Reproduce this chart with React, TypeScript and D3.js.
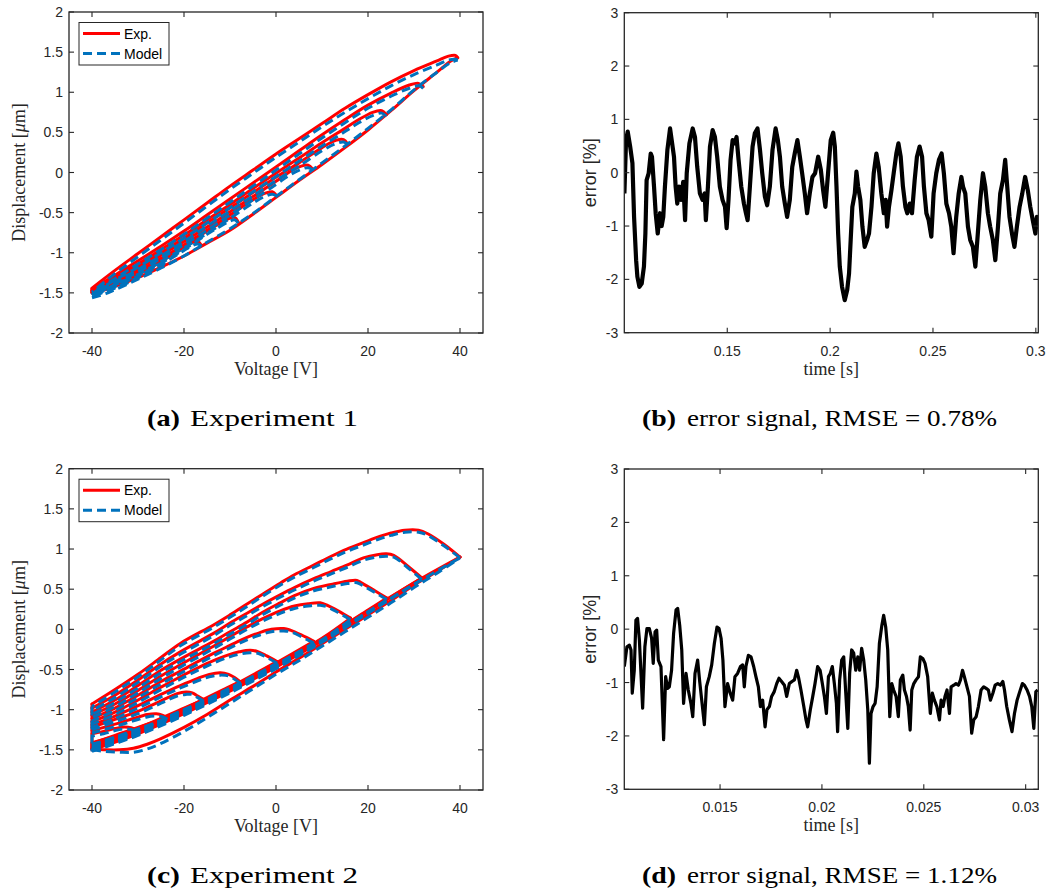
import React from "react";
import * as d3 from "d3";

type Row = [number, number, number]; // [voltage V, experiment µm, model µm]
type Pt = [number, number]; // [time ms, error %]

// ---------------- Experiment 1 (top-left) ----------------
const exp1Ascending: Row[] = [
  [-40, -1.5, -1.56], [-37, -1.46, -1.51], [-35, -1.42, -1.46], [-30, -1.31, -1.33], [-25, -1.18, -1.19],
  [-20, -1.04, -1.04], [-15, -0.88, -0.87], [-10, -0.72, -0.7], [-5, -0.52, -0.51], [0, -0.31, -0.3],
  [5, -0.1, -0.09], [10, 0.1, 0.12], [15, 0.31, 0.33], [20, 0.53, 0.55], [25, 0.77, 0.78],
  [30, 1.02, 1.03], [35, 1.25, 1.25], [38, 1.39, 1.37], [39.5, 1.43, 1.4],
];
const exp1Desc1: Row[] = [
  [39.5, 1.43, 1.4], [39, 1.46, 1.41], [37.5, 1.45, 1.4], [35, 1.39, 1.34], [30, 1.27, 1.22], [25, 1.13, 1.08],
  [20, 0.97, 0.92], [15, 0.8, 0.75], [10, 0.61, 0.57], [5, 0.42, 0.38], [0, 0.23, 0.19], [-5, 0.03, -0.01],
  [-10, -0.17, -0.21], [-15, -0.38, -0.42], [-20, -0.59, -0.63], [-25, -0.8, -0.84], [-30, -1.01, -1.05],
  [-35, -1.22, -1.26], [-40, -1.44, -1.49],
];
const exp1Desc2: Row[] = [
  [32, 1.07, 1.05], [31, 1.11, 1.08], [29, 1.09, 1.05], [25, 0.99, 0.95], [20, 0.84, 0.8], [15, 0.66, 0.62],
  [10, 0.47, 0.43], [5, 0.27, 0.23], [0, 0.07, 0.03], [-5, -0.13, -0.17], [-10, -0.33, -0.37], [-15, -0.53, -0.57],
  [-20, -0.73, -0.77], [-25, -0.92, -0.96], [-30, -1.1, -1.14], [-35, -1.28, -1.32], [-40, -1.45, -1.5],
];
const exp1Desc3: Row[] = [
  [24, 0.72, 0.7], [23, 0.77, 0.74], [21, 0.75, 0.71], [18, 0.66, 0.62], [15, 0.55, 0.51], [10, 0.37, 0.33],
  [5, 0.18, 0.14], [0, -0.01, -0.05], [-5, -0.2, -0.24], [-10, -0.4, -0.44], [-15, -0.59, -0.63],
  [-20, -0.78, -0.82], [-25, -0.96, -1.0], [-30, -1.14, -1.18], [-35, -1.3, -1.34], [-40, -1.46, -1.51],
];
const exp1Desc4: Row[] = [
  [15.5, 0.36, 0.35], [14.7, 0.41, 0.38], [13, 0.4, 0.36], [10, 0.31, 0.27], [5, 0.12, 0.08], [0, -0.06, -0.1],
  [-5, -0.25, -0.29], [-10, -0.44, -0.48], [-15, -0.63, -0.67], [-20, -0.82, -0.86], [-25, -1.0, -1.04],
  [-30, -1.17, -1.21], [-35, -1.32, -1.36], [-40, -1.47, -1.52],
];
const exp1Desc5: Row[] = [
  [8, 0.04, 0.03], [7, 0.09, 0.06], [5.5, 0.08, 0.04], [3, 0.01, -0.03], [0, -0.11, -0.15], [-5, -0.3, -0.34],
  [-10, -0.49, -0.53], [-15, -0.68, -0.72], [-20, -0.86, -0.9], [-25, -1.03, -1.07], [-30, -1.2, -1.24],
  [-35, -1.34, -1.38], [-40, -1.47, -1.52],
];
const exp1Desc6: Row[] = [
  [0, -0.28, -0.29], [-0.8, -0.24, -0.27], [-2.5, -0.26, -0.3], [-5, -0.34, -0.38], [-10, -0.53, -0.57],
  [-15, -0.72, -0.76], [-20, -0.9, -0.94], [-25, -1.07, -1.11], [-30, -1.23, -1.27], [-35, -1.36, -1.4],
  [-40, -1.48, -1.53],
];
const exp1Desc7: Row[] = [
  [-8.2, -0.62, -0.63], [-9, -0.56, -0.59], [-10.5, -0.58, -0.62], [-13, -0.66, -0.7], [-15, -0.73, -0.77],
  [-20, -0.92, -0.96], [-25, -1.09, -1.13], [-30, -1.25, -1.29], [-35, -1.38, -1.42], [-40, -1.48, -1.53],
];
const exp1Desc8: Row[] = [
  [-16.2, -0.91, -0.92], [-17, -0.86, -0.89], [-18.5, -0.88, -0.92], [-20, -0.93, -0.97], [-25, -1.11, -1.15],
  [-30, -1.27, -1.31], [-35, -1.39, -1.43], [-40, -1.49, -1.54],
];
const exp1Desc9: Row[] = [
  [-24.2, -1.15, -1.16], [-25, -1.12, -1.14], [-26.5, -1.14, -1.17], [-30, -1.27, -1.31], [-35, -1.4, -1.44],
  [-40, -1.49, -1.54],
];
const exp1Desc10: Row[] = [
  [-32.3, -1.36, -1.37], [-33, -1.33, -1.35], [-34.5, -1.35, -1.38], [-37, -1.42, -1.46], [-40, -1.5, -1.55],
];
const exp1Branches: Row[][] = [
  exp1Ascending, exp1Desc1, exp1Desc2, exp1Desc3, exp1Desc4, exp1Desc5,
  exp1Desc6, exp1Desc7, exp1Desc8, exp1Desc9, exp1Desc10,
];

// ---------------- Experiment 2 (bottom-left) ----------------
const exp2Lowest: Row[] = [
  [-40, -1.49, -1.5], [-37, -1.5, -1.52], [-34, -1.5, -1.53], [-31, -1.48, -1.53], [-28, -1.43, -1.49],
  [-25, -1.36, -1.42], [-20, -1.22, -1.27], [-15, -1.06, -1.1], [-10, -0.88, -0.92], [-5, -0.71, -0.74],
  [0, -0.53, -0.56], [5, -0.36, -0.39], [10, -0.18, -0.21], [15, 0.0, -0.03], [20, 0.18, 0.15],
  [25, 0.36, 0.33], [30, 0.55, 0.52], [35, 0.72, 0.7], [40, 0.9, 0.89],
];
const exp2Vertical: Row[] = [[-40, -0.93, -0.96], [-40, -1.5, -1.52]];
const exp2Top1: Row[] = [
  [40, 0.9, 0.89], [36.5, 1.06, 1.04], [33, 1.19, 1.17], [31, 1.235, 1.21], [28, 1.235, 1.21], [25, 1.2, 1.17],
  [22.7, 1.16, 1.13], [19, 1.08, 1.05], [15.4, 1.0, 0.97], [12, 0.91, 0.88], [8.2, 0.8, 0.77], [4, 0.68, 0.65],
  [0.9, 0.575, 0.55], [-3, 0.435, 0.41], [-6.3, 0.315, 0.285], [-10, 0.18, 0.15], [-13.6, 0.055, 0.025],
  [-20.8, -0.175, -0.205], [-25, -0.35, -0.38], [-30, -0.56, -0.59], [-35, -0.75, -0.78], [-40, -0.93, -0.96],
];
const exp2Top2: Row[] = [
  [31.7, 0.64, 0.62], [29, 0.77, 0.75], [25.6, 0.92, 0.9], [24, 0.94, 0.91], [22, 0.93, 0.9], [19, 0.89, 0.86],
  [15.4, 0.8, 0.77], [12, 0.72, 0.69], [8.2, 0.63, 0.6], [4, 0.52, 0.49], [0.9, 0.43, 0.4], [-3, 0.31, 0.28],
  [-6.3, 0.2, 0.17], [-10, 0.08, 0.05], [-13.6, -0.05, -0.08], [-20.8, -0.28, -0.31], [-25, -0.43, -0.46],
  [-30, -0.63, -0.66], [-35, -0.82, -0.85], [-40, -0.98, -1.01],
];
const exp2Top3: Row[] = [
  [24.1, 0.39, 0.37], [21.5, 0.48, 0.46], [18.7, 0.575, 0.55], [17.6, 0.61, 0.58], [15.5, 0.6, 0.57],
  [12, 0.56, 0.53], [8.2, 0.51, 0.48], [4, 0.42, 0.39], [0.9, 0.33, 0.3], [-3, 0.21, 0.18], [-6.3, 0.09, 0.06],
  [-10, -0.03, -0.06], [-13.6, -0.15, -0.18], [-20.8, -0.37, -0.4], [-25, -0.51, -0.54], [-30, -0.7, -0.73],
  [-35, -0.88, -0.91], [-40, -1.03, -1.06],
];
const exp2Top4: Row[] = [
  [16.2, 0.14, 0.12], [13.5, 0.23, 0.21], [11.1, 0.3, 0.28], [9.6, 0.33, 0.3], [7, 0.32, 0.29], [4, 0.29, 0.26],
  [0.9, 0.23, 0.2], [-3, 0.13, 0.1], [-6.3, 0.03, 0.0], [-10, -0.09, -0.12], [-13.6, -0.21, -0.24],
  [-20.8, -0.44, -0.47], [-25, -0.58, -0.61], [-30, -0.76, -0.79], [-35, -0.93, -0.96], [-40, -1.07, -1.1],
];
const exp2Top5: Row[] = [
  [8.2, -0.15, -0.17], [5.5, -0.07, -0.09], [3.1, -0.01, -0.03], [1.7, 0.01, -0.02], [-1, 0.0, -0.03],
  [-3.5, -0.04, -0.07], [-6.3, -0.1, -0.13], [-10, -0.2, -0.23], [-13.6, -0.3, -0.33], [-20.8, -0.52, -0.55],
  [-25, -0.65, -0.68], [-30, -0.82, -0.85], [-35, -0.98, -1.01], [-40, -1.11, -1.14],
];
const exp2Top6: Row[] = [
  [0.2, -0.4, -0.42], [-2, -0.33, -0.35], [-3.8, -0.28, -0.3], [-5.6, -0.26, -0.29], [-8, -0.28, -0.31],
  [-10.5, -0.32, -0.35], [-13.6, -0.39, -0.42], [-17, -0.48, -0.51], [-20.8, -0.59, -0.62], [-25, -0.72, -0.75],
  [-30, -0.88, -0.91], [-35, -1.03, -1.06], [-40, -1.15, -1.18],
];
const exp2Top7: Row[] = [
  [-7.8, -0.65, -0.67], [-9, -0.6, -0.62], [-10.3, -0.56, -0.58], [-12.1, -0.54, -0.57], [-14.5, -0.56, -0.59],
  [-17, -0.61, -0.64], [-20.8, -0.7, -0.73], [-25, -0.81, -0.84], [-30, -0.95, -0.98], [-35, -1.08, -1.11],
  [-40, -1.19, -1.22],
];
const exp2Top8: Row[] = [
  [-15.7, -0.875, -0.895], [-17, -0.83, -0.85], [-18.2, -0.79, -0.81], [-19.6, -0.78, -0.81], [-21.5, -0.8, -0.83],
  [-25, -0.89, -0.92], [-30, -1.02, -1.05], [-35, -1.12, -1.15], [-40, -1.22, -1.25],
];
const exp2Top9: Row[] = [
  [-23.6, -1.1, -1.12], [-24.6, -1.07, -1.09], [-26, -1.05, -1.08], [-28, -1.06, -1.09], [-31, -1.11, -1.14],
  [-35, -1.18, -1.21], [-40, -1.26, -1.29],
];
const exp2Top10: Row[] = [
  [-30.5, -1.25, -1.27], [-31.5, -1.225, -1.245], [-33, -1.215, -1.24], [-35, -1.235, -1.26], [-37.5, -1.27, -1.3],
  [-40, -1.3, -1.33],
];
const exp2Band0: Row[] = [[-40, -1.41, -1.43], [-35, -1.33, -1.35], [-30.5, -1.25, -1.27]];
const exp2Band1: Row[] = [[-40, -1.42, -1.44], [-35, -1.32, -1.34], [-30, -1.22, -1.24], [-23.6, -1.1, -1.12]];
const exp2Band2: Row[] = [[-40, -1.43, -1.45], [-30, -1.23, -1.25], [-20, -0.98, -1.0], [-15.7, -0.875, -0.895]];
const exp2Band3: Row[] = [
  [-40, -1.44, -1.46], [-30, -1.24, -1.26], [-20, -0.99, -1.01], [-10, -0.71, -0.73], [-7.8, -0.65, -0.67],
];
const exp2Band4: Row[] = [
  [-40, -1.45, -1.47], [-30, -1.25, -1.27], [-20, -1.0, -1.02], [-10, -0.72, -0.74], [0.2, -0.4, -0.42],
];
const exp2Band5: Row[] = [
  [-40, -1.46, -1.48], [-30, -1.26, -1.28], [-20, -1.01, -1.03], [-10, -0.73, -0.75], [0, -0.42, -0.44],
  [8.2, -0.15, -0.17],
];
const exp2Band6: Row[] = [
  [-40, -1.47, -1.49], [-30, -1.27, -1.29], [-20, -1.02, -1.04], [-10, -0.74, -0.76], [0, -0.44, -0.46],
  [10, -0.11, -0.13], [16.2, 0.14, 0.12],
];
const exp2Band7: Row[] = [
  [-40, -1.48, -1.5], [-30, -1.28, -1.3], [-20, -1.03, -1.05], [-10, -0.75, -0.77], [0, -0.45, -0.47],
  [10, -0.12, -0.14], [20, 0.24, 0.22], [24.1, 0.39, 0.37],
];
const exp2Band8: Row[] = [
  [-40, -1.49, -1.51], [-30, -1.29, -1.31], [-20, -1.04, -1.06], [-10, -0.76, -0.78], [0, -0.46, -0.48],
  [10, -0.13, -0.15], [20, 0.23, 0.21], [31.7, 0.64, 0.62],
];
const exp2Band9: Row[] = [
  [-40, -1.5, -1.52], [-30, -1.3, -1.32], [-20, -1.05, -1.07], [-10, -0.77, -0.79], [0, -0.47, -0.49],
  [10, -0.14, -0.16], [20, 0.22, 0.2], [30, 0.58, 0.56], [40, 0.9, 0.89],
];
const exp2Branches: Row[][] = [
  exp2Lowest, exp2Vertical, exp2Top1, exp2Top2, exp2Top3, exp2Top4, exp2Top5, exp2Top6, exp2Top7, exp2Top8,
  exp2Top9, exp2Top10, exp2Band0, exp2Band1, exp2Band2, exp2Band3, exp2Band4, exp2Band5, exp2Band6,
  exp2Band7, exp2Band8, exp2Band9,
];

// ---------------- Error signals ----------------
const error1: Pt[] = [
  [100.0, -0.39], [100.8, 0.61], [101.6, 0.77], [102.8, 0.49], [103.9, 0.18], [104.7, -0.83], [105.7, -1.64],
  [106.3, -1.95], [107.3, -2.14], [108.4, -2.08], [109.5, -1.76], [110.2, -1.14], [110.8, -0.14], [111.8, -0.01],
  [112.8, 0.36], [113.4, 0.3], [114.4, -0.26], [115.2, -0.76], [116.2, -1.14], [117.3, -0.76], [118.1, -1.0],
  [118.9, -0.83], [119.7, -0.26], [120.9, 0.43], [122.2, 0.83], [123.0, 0.61], [124.1, 0.3], [124.9, -0.26],
  [125.7, -0.58], [126.5, -0.26], [127.5, -0.51], [128.6, -0.17], [129.5, -0.89], [130.3, -0.01], [131.6, 0.55],
  [133.2, 0.83], [134.3, 0.67], [135.4, 0.11], [136.7, -0.39], [138.0, -0.51], [139.0, -0.39], [139.6, -0.89],
  [140.6, -0.26], [141.6, 0.49], [142.9, 0.8], [144.0, 0.67], [145.1, 0.3], [146.4, -0.26], [147.7, -0.51],
  [148.9, -0.64], [149.7, -1.04], [150.6, -0.51], [151.6, 0.24], [152.6, 0.61], [153.6, 0.55], [154.5, 0.67],
  [155.5, 0.24], [156.8, -0.26], [158.1, -0.58], [159.1, -0.76], [159.9, -0.89], [161.0, -0.26], [162.3, 0.49],
  [163.4, 0.74], [164.7, 0.83], [165.9, 0.43], [167.0, -0.01], [168.3, -0.45], [169.4, -0.61], [170.7, -0.26],
  [172.0, 0.43], [173.5, 0.83], [174.6, 0.61], [175.6, 0.3], [176.7, -0.26], [178.0, -0.58], [179.1, -0.83],
  [180.4, -0.51], [181.6, 0.11], [182.8, 0.36], [184.1, 0.61], [185.3, 0.3], [186.4, -0.01], [187.7, -0.39],
  [188.8, -0.76], [190.1, -0.39], [191.4, -0.08], [192.7, -0.01], [194.2, 0.3], [195.5, 0.05], [196.6, -0.33],
  [197.7, -0.64], [199.0, -0.01], [200.3, 0.61], [201.5, 0.75], [202.3, 0.49], [203.1, -0.26], [203.9, -1.14],
  [204.7, -1.76], [205.8, -2.14], [207.1, -2.39], [208.3, -2.2], [209.2, -1.89], [210.0, -1.26], [210.8, -0.64],
  [212.0, -0.39], [212.8, 0.02], [213.6, -0.26], [214.7, -0.51], [215.7, -1.01], [216.8, -1.39], [218.0, -1.26],
  [218.9, -1.14], [220.1, -0.64], [221.2, -0.01], [222.5, 0.36], [223.6, 0.11], [224.9, -0.39], [226.1, -0.76],
  [227.0, -0.51], [227.7, -1.01], [228.6, -0.64], [229.8, -0.33], [230.9, -0.01], [232.2, 0.36], [233.2, 0.55],
  [234.3, 0.3], [235.4, -0.26], [236.6, -0.64], [237.5, -0.76], [238.7, -0.58], [239.8, -0.76], [241.1, -0.14],
  [242.2, 0.3], [243.5, 0.49], [244.7, 0.3], [245.6, -0.26], [246.8, -0.76], [247.9, -0.89], [249.2, -1.2],
  [250.3, -0.39], [251.6, -0.01], [252.9, 0.24], [254.2, 0.36], [255.3, -0.01], [256.5, -0.58], [257.8, -0.76],
  [258.9, -1.01], [260.0, -1.51], [261.3, -0.83], [262.5, -0.39], [263.8, -0.08], [264.6, -0.26], [265.7, -0.39],
  [267.0, -1.01], [268.1, -1.26], [269.4, -1.39], [270.6, -1.76], [271.8, -1.14], [273.0, -0.51], [274.3, -0.01],
  [275.4, -0.26], [276.7, -0.76], [277.8, -1.01], [279.1, -1.26], [280.3, -1.64], [281.6, -1.01], [282.7, -0.39],
  [284.0, -0.14], [285.1, 0.24], [286.1, -0.26], [287.2, -0.83], [288.4, -1.14], [289.6, -1.39], [290.8, -1.01],
  [292.1, -0.64], [293.4, -0.39], [294.8, -0.08], [296.1, -0.33], [297.3, -0.64], [298.5, -0.89], [299.8, -1.14],
  [300.5, -0.83], [301.2, -1.0],
];
const error2: Pt[] = [
  [10.3, -0.7], [10.43, -0.33], [10.55, -0.3], [10.63, -0.39], [10.69, -1.2], [10.79, -0.77], [10.87, 0.17],
  [10.95, 0.2], [11.04, -0.2], [11.2, -1.48], [11.31, -0.33], [11.41, 0.01], [11.53, 0.01], [11.64, -0.17],
  [11.72, -0.64], [11.81, -0.05], [11.89, -0.02], [11.97, -0.58], [12.1, -0.7], [12.23, -2.07], [12.33, -0.89],
  [12.43, -1.11], [12.51, -1.08], [12.62, -0.77], [12.72, -0.08], [12.84, 0.36], [12.92, 0.39], [13.02, 0.07],
  [13.12, -0.39], [13.21, -1.39], [13.33, -0.83], [13.44, -1.14], [13.57, -1.39], [13.66, -1.64], [13.77, -0.83],
  [13.9, -0.58], [14.0, -0.98], [14.1, -1.33], [14.23, -1.79], [14.33, -1.08], [14.47, -0.89], [14.59, -0.67],
  [14.72, -0.27], [14.85, 0.04], [14.95, 0.01], [15.05, -0.17], [15.14, -0.58], [15.24, -1.45], [15.37, -1.02],
  [15.5, -1.2], [15.62, -1.33], [15.73, -0.89], [15.86, -0.83], [16.0, -0.7], [16.11, -0.67], [16.19, -1.08],
  [16.27, -0.7], [16.39, -0.49], [16.52, -0.52], [16.65, -0.7], [16.76, -0.89], [16.88, -1.08], [16.98, -1.45],
  [17.09, -1.33], [17.21, -1.83], [17.3, -1.51], [17.42, -1.45], [17.53, -1.26], [17.66, -1.17], [17.78, -1.02],
  [17.89, -0.92], [18.02, -0.98], [18.16, -1.05], [18.27, -1.26], [18.4, -1.02], [18.53, -0.98], [18.65, -0.95],
  [18.76, -0.77], [18.86, -0.92], [18.97, -1.14], [19.11, -1.45], [19.22, -1.7], [19.3, -1.83], [19.43, -1.51],
  [19.55, -1.26], [19.66, -1.02], [19.79, -0.7], [19.91, -0.77], [20.02, -1.02], [20.12, -1.26], [20.22, -1.58],
  [20.32, -0.89], [20.41, -0.83], [20.51, -0.7], [20.61, -1.02], [20.71, -1.39], [20.77, -1.92], [20.87, -0.95],
  [20.97, -0.58], [21.07, -0.52], [21.17, -1.2], [21.27, -1.86], [21.36, -0.83], [21.46, -0.39], [21.56, -0.45],
  [21.66, -0.77], [21.76, -0.52], [21.85, -0.77], [21.95, -0.36], [22.05, -0.58], [22.15, -0.95], [22.25, -1.51],
  [22.33, -2.51], [22.41, -1.58], [22.51, -1.45], [22.61, -1.39], [22.71, -1.08], [22.82, -0.27], [22.94, 0.07],
  [23.03, 0.26], [23.13, 0.04], [23.23, -0.39], [23.33, -1.64], [23.43, -1.02], [23.52, -1.14], [23.64, -1.26],
  [23.75, -1.64], [23.85, -0.95], [23.97, -0.86], [24.05, -1.14], [24.15, -1.26], [24.24, -1.45], [24.33, -1.89],
  [24.41, -1.14], [24.51, -1.02], [24.62, -0.95], [24.74, -0.89], [24.83, -0.52], [24.95, -0.55], [25.06, -0.64],
  [25.19, -0.89], [25.32, -1.58], [25.42, -1.2], [25.52, -1.33], [25.64, -1.45], [25.77, -1.7], [25.85, -1.33],
  [25.95, -1.45], [26.04, -1.26], [26.14, -1.14], [26.26, -1.58], [26.34, -1.08], [26.47, -1.05], [26.58, -1.02],
  [26.7, -1.05], [26.8, -0.95], [26.9, -0.77], [26.99, -0.89], [27.12, -1.08], [27.24, -1.26], [27.35, -1.95],
  [27.45, -1.7], [27.57, -1.64], [27.68, -1.45], [27.81, -1.14], [27.94, -1.08], [28.06, -1.11], [28.17, -1.14],
  [28.27, -1.33], [28.39, -1.2], [28.5, -1.05], [28.63, -1.02], [28.76, -1.05], [28.88, -0.98], [28.96, -1.14],
  [29.07, -1.45], [29.2, -1.7], [29.33, -1.92], [29.45, -1.58], [29.58, -1.33], [29.71, -1.17], [29.84, -1.02],
  [29.94, -1.05], [30.07, -1.14], [30.19, -1.26], [30.3, -1.45], [30.4, -1.86], [30.5, -1.17], [30.59, -1.14],
];

// ---------------- Axes ----------------
const voltTicks = [-40, -20, 0, 20, 40];
const dispTicks = [-2, -1.5, -1, -0.5, 0, 0.5, 1, 1.5, 2];
const errTicks = [-3, -2, -1, 0, 1, 2, 3];
const time1Ticks = [150, 200, 250, 300];
const time1Labels = ["0.15", "0.2", "0.25", "0.3"];
const time2Ticks = [15, 20, 25, 30];
const time2Labels = ["0.015", "0.02", "0.025", "0.03"];
const legendLabels = ["Exp.", "Model"];

const SANS = "'Liberation Sans', Arial, Helvetica, sans-serif";
const SERIF = "'Liberation Serif', 'Times New Roman', serif";
const AX = "#262626";
const RED = "#FF0000";
const BLUE = "#0072BD";

type Box = { x0: number; x1: number; y0: number; y1: number };

function Frame(props: {
  box: Box;
  xs: (v: number) => number;
  ys: (v: number) => number;
  xTicks: number[];
  xLabels: string[];
  yTicks: number[];
  yLabels: string[];
  xLabel: React.ReactNode;
  yLabel: React.ReactNode;
  yLabelSans?: boolean;
  yLabelX: number;
}) {
  const { box, xs, ys } = props;
  const tl = 5;
  const cy = (box.y0 + box.y1) / 2;
  const cx = (box.x0 + box.x1) / 2;
  return (
    <g>
      {props.xTicks.map((t, i) => {
        const px = xs(t);
        return (
          <g key={"xt" + i}>
            <line x1={px} x2={px} y1={box.y1} y2={box.y1 - tl} stroke={AX} strokeWidth={1.1} />
            <line x1={px} x2={px} y1={box.y0} y2={box.y0 + tl} stroke={AX} strokeWidth={1.1} />
            <text x={px} y={box.y1 + 23} textAnchor="middle" fontFamily={SANS} fontSize={14} fill={AX}>
              {props.xLabels[i]}
            </text>
          </g>
        );
      })}
      {props.yTicks.map((t, i) => {
        const py = ys(t);
        return (
          <g key={"yt" + i}>
            <line x1={box.x0} x2={box.x0 + tl} y1={py} y2={py} stroke={AX} strokeWidth={1.1} />
            <line x1={box.x1} x2={box.x1 - tl} y1={py} y2={py} stroke={AX} strokeWidth={1.1} />
            <text x={box.x0 - 6} y={py} dy="0.36em" textAnchor="end" fontFamily={SANS} fontSize={14} fill={AX}>
              {props.yLabels[i]}
            </text>
          </g>
        );
      })}
      <rect x={box.x0} y={box.y0} width={box.x1 - box.x0} height={box.y1 - box.y0} fill="none" stroke={AX} strokeWidth={1.3} />
      <text x={cx} y={box.y1 + 42} textAnchor="middle" fontFamily={SERIF} fontSize={18} fill={AX}>
        {props.xLabel}
      </text>
      <text
        transform={`translate(${props.yLabelX},${cy}) rotate(-90)`}
        textAnchor="middle"
        fontFamily={props.yLabelSans ? SANS : SERIF}
        fontSize={18}
        fill={AX}
      >
        {props.yLabel}
      </text>
    </g>
  );
}

function HystPanel({ box, branches, id }: { box: Box; branches: Row[][]; id: string }) {
  const xs = d3.scaleLinear().domain([-45, 45]).range([box.x0, box.x1]);
  const ys = d3.scaleLinear().domain([-2, 2]).range([box.y1, box.y0]);
  const mk = (k: 1 | 2) =>
    d3
      .line<Row>()
      .x((d) => xs(d[0]))
      .y((d) => ys(d[k]))
      .curve(d3.curveCatmullRom.alpha(0.5));
  const expLine = mk(1);
  const modLine = mk(2);
  const lx = box.x0 + 10;
  const ly = box.y0 + 10.5;
  return (
    <g>
      <defs>
        <clipPath id={id}>
          <rect x={box.x0} y={box.y0} width={box.x1 - box.x0} height={box.y1 - box.y0} />
        </clipPath>
      </defs>
      <g clipPath={`url(#${id})`}>
        {branches.map((b, i) => (
          <path key={"e" + i} d={expLine(b) || ""} fill="none" stroke={RED} strokeWidth={3} strokeLinejoin="round" strokeLinecap="round" />
        ))}
        {branches.map((b, i) => (
          <path key={"m" + i} d={modLine(b) || ""} fill="none" stroke={BLUE} strokeWidth={3} strokeDasharray="9,5" />
        ))}
      </g>
      <Frame
        box={box}
        xs={xs}
        ys={ys}
        xTicks={voltTicks}
        xLabels={voltTicks.map(String)}
        yTicks={dispTicks}
        yLabels={dispTicks.map(String)}
        xLabel="Voltage [V]"
        yLabel={
          <>
            Displacement [<tspan fontStyle="italic">μ</tspan>m]
          </>
        }
        yLabelX={25}
      />
      <g>
        <rect x={lx} y={ly} width={90} height={42.5} fill="#fff" stroke={AX} strokeWidth={1} />
        <line x1={lx + 4} x2={lx + 41} y1={ly + 11} y2={ly + 11} stroke={RED} strokeWidth={3} />
        <line x1={lx + 4} x2={lx + 41} y1={ly + 31} y2={ly + 31} stroke={BLUE} strokeWidth={3} strokeDasharray="9,5" />
        <text x={lx + 45} y={ly + 16} fontFamily={SANS} fontSize={14} fill="#000">{legendLabels[0]}</text>
        <text x={lx + 45} y={ly + 36} fontFamily={SANS} fontSize={14} fill="#000">{legendLabels[1]}</text>
      </g>
    </g>
  );
}

function ErrorPanel(props: {
  box: Box;
  data: Pt[];
  domain: [number, number];
  ticks: number[];
  labels: string[];
  id: string;
  width: number;
}) {
  const { box } = props;
  const xs = d3.scaleLinear().domain(props.domain).range([box.x0, box.x1]);
  const ys = d3.scaleLinear().domain([-3, 3]).range([box.y1, box.y0]);
  const line = d3
    .line<Pt>()
    .x((d) => xs(d[0]))
    .y((d) => ys(d[1]));
  return (
    <g>
      <defs>
        <clipPath id={props.id}>
          <rect x={box.x0} y={box.y0} width={box.x1 - box.x0} height={box.y1 - box.y0} />
        </clipPath>
      </defs>
      <g clipPath={`url(#${props.id})`}>
        <path d={line(props.data) || ""} fill="none" stroke="#000" strokeWidth={props.width} strokeLinejoin="round" />
      </g>
      <Frame
        box={box}
        xs={xs}
        ys={ys}
        xTicks={props.ticks}
        xLabels={props.labels}
        yTicks={errTicks}
        yLabels={errTicks.map(String)}
        xLabel="time [s]"
        yLabel="error [%]"
        yLabelSans
        yLabelX={596}
      />
    </g>
  );
}

function Caption(props: { left: number; y: number; tag: string; text: string; tagW: number; gap: number; textW: number }) {
  const { left, y, tag, text, tagW, gap, textW } = props;
  return (
    <g fontFamily={SERIF} fontSize={23} fill="#000">
      <text x={left} y={y} fontWeight="bold" textLength={tagW} lengthAdjust="spacingAndGlyphs">
        ({tag})
      </text>
      <text x={left + tagW + gap} y={y} textLength={textW} lengthAdjust="spacingAndGlyphs">
        {text}
      </text>
    </g>
  );
}

export default function App() {
  const tl: Box = { x0: 69, x1: 483, y0: 12, y1: 333 };
  const tr: Box = { x0: 624.3, x1: 1038.3, y0: 12.7, y1: 332.7 };
  const bl: Box = { x0: 69, x1: 483, y0: 468.7, y1: 790 };
  const br: Box = { x0: 624.3, x1: 1038.3, y0: 469, y1: 789.3 };
  return (
    <svg
      width={1051}
      height={891}
      style={{ position: "absolute", left: 0, top: 0, background: "#fff" }}
      xmlns="http://www.w3.org/2000/svg"
    >
      <rect x={0} y={0} width={1051} height={891} fill="#fff" />
      <HystPanel box={tl} branches={exp1Branches} id="clipA" />
      <ErrorPanel box={tr} data={error1} domain={[99.95, 301.2]} ticks={time1Ticks} labels={time1Labels} id="clipB" width={4.2} />
      <HystPanel box={bl} branches={exp2Branches} id="clipC" />
      <ErrorPanel box={br} data={error2} domain={[10.3, 30.62]} ticks={time2Ticks} labels={time2Labels} id="clipD" width={3.2} />
      <Caption left={147} y={426} tag="a" text="Experiment 1" tagW={33} gap={10} textW={168} />
      <Caption left={642} y={426} tag="b" text="error signal, RMSE = 0.78%" tagW={34} gap={11} textW={310} />
      <Caption left={147} y={883} tag="c" text="Experiment 2" tagW={33} gap={10} textW={168} />
      <Caption left={642} y={883} tag="d" text="error signal, RMSE = 1.12%" tagW={34} gap={11} textW={310} />
    </svg>
  );
}
